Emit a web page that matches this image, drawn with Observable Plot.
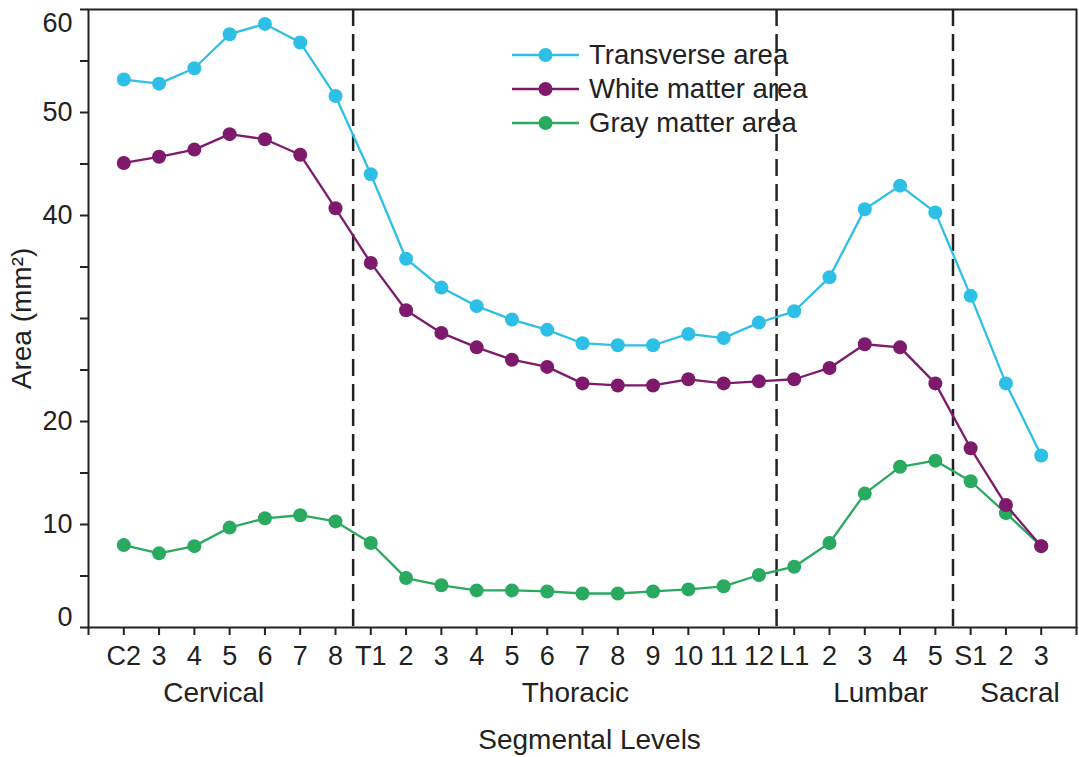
<!DOCTYPE html>
<html>
<head>
<meta charset="utf-8">
<script src="https://cdn.jsdelivr.net/npm/d3@7"></script>
<script src="https://cdn.jsdelivr.net/npm/@observablehq/plot@0.6"></script>
<style>
  html, body { margin: 0; padding: 0; background: #fff; }
  #wrap { position: relative; width: 1079px; height: 757px; font-family: "Liberation Sans", Arial, Helvetica, sans-serif; color: #222; }
  #legend { position: absolute; left: 512px; top: 38px; }
  .row { display: flex; align-items: center; height: 34px; font-size: 27.5px; }
  .row svg { margin-right: 10px; }
</style>
</head>
<body>
<div id="wrap"><div id="chart"></div><div id="legend"></div></div>
<script>
// ---- data ----
const levels = ["C2","3","4","5","6","7","8","T1","2","3","4","5","6","7","8","9","10","11","12","L1","2","3","4","5","S1","2","3"];
const transverse = [53.2,52.8,54.3,57.6,58.6,56.8,51.6,44.0,35.8,33.0,31.2,29.9,28.9,27.6,27.4,27.4,28.5,28.1,29.6,30.7,34.0,40.6,42.9,40.3,32.2,23.7,16.7];
const whiteMatter = [45.1,45.7,46.4,47.9,47.4,45.9,40.7,35.4,30.8,28.6,27.2,26.0,25.3,23.7,23.5,23.5,24.1,23.7,23.9,24.1,25.2,27.5,27.2,23.7,17.4,11.9,7.9];
const grayMatter = [8.0,7.2,7.9,9.7,10.6,10.9,10.3,8.2,4.8,4.1,3.6,3.6,3.5,3.3,3.3,3.5,3.7,4.0,5.1,5.9,8.2,13.0,15.6,16.2,14.2,11.1,7.9];
const seriesNames = ["Transverse area","White matter area","Gray matter area"];
const seriesColors = ["#2ebfe7","#7e1a6c","#29aa60"];
const regionBoundaries = [7.5, 19.5, 24.5];
const regionNames = ["Cervical","Thoracic","Lumbar","Sacral"];
const regionCenters = [3.55, 13.8, 22.45, 26.4];
const yLabeled = [10, 20, 40, 50];
const yEdgeLabels = [0, 60];
const xTitle = "Segmental Levels";
const yTitle = "Area (mm²)";

// ---- build ----
const toRows = (arr, name) => arr.map((v, i) => ({idx: i + 1, v, series: name}));
const tRows = toRows(transverse, seriesNames[0]);
const wRows = toRows(whiteMatter, seriesNames[1]);
const gRows = toRows(grayMatter, seriesNames[2]);

const font = '"Liberation Sans", Arial, Helvetica, sans-serif';
const ink = "#222";
const tickFont = 27;
const labelFont = 28;

function seriesMarks(rows, color) {
  return [
    Plot.line(rows, {x: "idx", y: "v", stroke: color, strokeWidth: 2.3}),
    Plot.dot(rows, {x: "idx", y: "v", fill: color, r: 7})
  ];
}

const chart = Plot.plot({
  width: 1079,
  height: 757,
  marginLeft: 88,
  marginRight: 3,
  marginTop: 9,
  marginBottom: 130,
  style: {fontFamily: font, color: ink, background: "#fff", overflow: "visible"},
  x: {type: "linear", domain: [0, levels.length + 1]},
  y: {domain: [0, 60]},
  marks: [
    Plot.ruleX(regionBoundaries, {stroke: ink, strokeWidth: 2.5, strokeDasharray: "17,8"}),
    ...seriesMarks(gRows, seriesColors[2]),
    ...seriesMarks(tRows, seriesColors[0]),
    ...seriesMarks(wRows, seriesColors[1]),
    Plot.frame({stroke: ink, strokeWidth: 2}),
    Plot.axisX({
      ticks: d3.range(0, levels.length + 2),
      tickFormat: d => levels[d - 1] ?? "",
      tickSize: 8, tickPadding: 10, fontSize: tickFont, stroke: ink, strokeWidth: 2, fill: ink, label: null
    }),
    Plot.axisY({
      ticks: d3.range(0, 61, 5), tickFormat: () => "",
      tickSize: 8, stroke: ink, strokeWidth: 2, label: null
    }),
    Plot.axisY({
      ticks: yLabeled, tickSize: 0, tickPadding: 16, fontSize: tickFont, fill: ink, label: null
    }),
    Plot.text([yEdgeLabels[0]], {x: 0, y: d => d, text: d => String(d), dx: -16, dy: -10, textAnchor: "end", fontSize: tickFont, fill: ink}),
    Plot.text([yEdgeLabels[1]], {x: 0, y: d => d, text: d => String(d), dx: -16, dy: 14, textAnchor: "end", fontSize: tickFont, fill: ink}),
    Plot.text(regionNames, {x: (d, i) => regionCenters[i], frameAnchor: "bottom", dy: 74, text: d => d, fontSize: labelFont, fill: ink}),
    Plot.text([xTitle], {x: 14.2, frameAnchor: "bottom", dy: 121, text: d => d, fontSize: labelFont, fill: ink}),
    Plot.text([yTitle], {frameAnchor: "left", dx: -66, rotate: -90, textAnchor: "middle", text: d => d, fontSize: labelFont, fill: ink})
  ]
});
document.getElementById("chart").appendChild(chart);

// ---- legend ----
const legend = document.getElementById("legend");
seriesNames.forEach((name, i) => {
  const row = document.createElement("div");
  row.className = "row";
  row.innerHTML = `<svg width="67" height="20"><line x1="0" y1="10" x2="67" y2="10" stroke="${seriesColors[i]}" stroke-width="2.3"/><circle cx="33.5" cy="10" r="7" fill="${seriesColors[i]}"/></svg><span>${name}</span>`;
  legend.appendChild(row);
});
</script>
</body>
</html>
